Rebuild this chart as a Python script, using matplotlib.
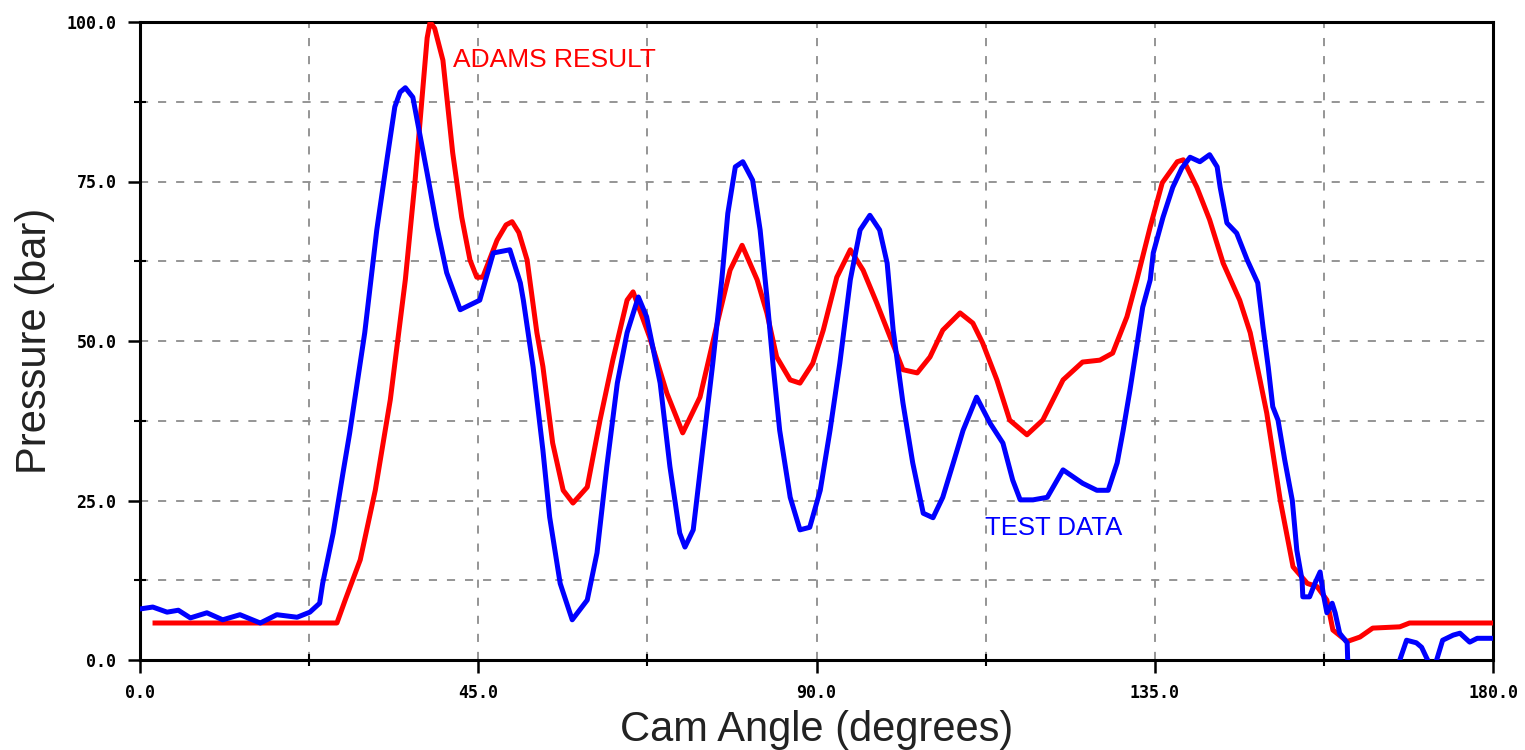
import matplotlib
matplotlib.use('Agg')
import matplotlib.pyplot as plt
from matplotlib.ticker import MultipleLocator, FormatStrFormatter

# ADAMS simulation result (red)
adams_deg = [2.0, 26.2, 27.3, 29.3, 31.3, 33.3, 35.3, 36.6, 37.5, 38.2, 38.6, 39.2, 40.3, 41.6, 42.8, 43.9,
             44.8, 45.6, 47.5, 48.7, 49.5, 50.4, 51.5, 52.8, 53.6, 54.9, 56.3, 57.6, 59.5, 61.2, 62.9, 64.8,
             65.6, 67.8, 70.1, 72.2, 74.5, 76.8, 78.5, 80.1, 82.1, 83.4, 84.7, 86.5, 87.8, 89.5,
             90.9, 92.7, 94.5, 96.2, 98.0, 99.8, 101.5, 103.4, 105.1, 106.8, 109.1, 110.8, 112.1,
             114.0, 115.7, 118.0, 120.1, 122.8, 125.4, 127.7, 129.4, 131.3, 132.6, 134.4, 136.0,
             138.0, 138.8, 140.6, 142.3, 144.1, 146.3, 147.7, 149.0, 149.9, 151.7, 153.4, 155.3,
             156.6, 157.9, 158.7, 160.6, 162.3, 164.0, 167.6, 168.9, 180.0]
adams_bar = [5.8, 5.8, 9.4, 15.7, 26.6, 40.8, 59.6, 75.2, 87.8, 97.5, 100.0, 99.0, 94.0, 79.5, 69.4, 62.7,
             60.0, 60.0, 65.8, 68.2, 68.7, 67.0, 62.7, 51.3, 46.0, 34.0, 26.6, 24.6, 27.1, 37.6, 47.0, 56.4,
             57.7, 50.6, 41.8, 35.6, 41.2, 52.8, 61.1, 65.0, 59.6, 54.4, 47.5, 43.9, 43.4, 46.5,
             51.7, 60.0, 64.3, 61.1, 56.0, 50.6, 45.5, 45.0, 47.5, 51.7, 54.4, 52.8, 49.7,
             43.9, 37.6, 35.3, 37.6, 43.9, 46.7, 47.0, 48.1, 53.8, 59.5, 67.9, 74.8,
             78.1, 78.4, 74.1, 69.0, 62.2, 56.4, 51.3, 43.9, 38.7, 25.0, 14.6, 12.0,
             11.5, 9.4, 4.7, 2.9, 3.6, 5.0, 5.2, 5.8, 5.8]

# measured test data (blue)
test_deg = [0.0, 1.7, 3.6, 5.1, 6.7, 8.9, 11.0, 13.3, 16.0, 18.2, 20.9, 22.6, 23.9, 24.3, 25.7,
            27.0, 27.9, 28.9, 29.9, 31.5, 32.9, 33.9, 34.6, 35.3, 36.3, 37.2, 38.2, 39.5, 40.8, 42.6,
            45.2, 47.0, 49.2, 50.6, 51.0, 52.3, 53.6, 54.5, 55.9, 57.5, 59.5, 60.8, 62.1, 63.5,
            64.8, 66.3, 67.4, 69.2, 70.5, 71.8, 72.5, 73.6, 74.9, 76.2, 77.4, 78.2, 79.2, 80.2,
            81.5, 82.5, 83.4, 84.2, 85.1, 86.5, 87.8, 89.1, 90.5, 91.8, 93.1, 94.5, 95.8, 97.1,
            98.4, 99.4, 100.2, 101.5, 102.8, 104.2, 105.5, 106.8, 108.2, 109.5, 111.3, 113.1,
            114.8, 116.1, 117.1, 118.8, 120.7, 122.8, 125.4, 127.3, 128.8, 130.0, 130.8, 131.7,
            132.6, 133.4, 134.4, 134.8, 136.1, 137.4, 138.6, 139.7, 141.0, 142.3, 143.3, 143.7,
            144.6, 145.9, 147.3, 148.7, 149.4, 150.1, 150.7, 151.4, 152.3, 153.3, 153.9, 154.6,
            154.7, 155.6, 156.3, 157.0, 157.4, 157.9, 158.6, 159.0, 159.6, 160.6, 160.8, 167.4,
            167.6, 168.5, 169.8, 170.5, 171.3, 171.8, 172.5, 173.3, 174.7, 175.6, 176.9, 177.9,
            180.0]
test_bar = [8.0, 8.3, 7.5, 7.8, 6.6, 7.4, 6.3, 7.1, 5.8, 7.1, 6.7, 7.5, 8.9, 12.0, 19.9,
            29.3, 35.6, 43.4, 51.3, 67.4, 78.8, 86.7, 89.0, 89.7, 88.2, 82.6, 76.3, 67.9, 60.7, 54.9,
            56.4, 63.8, 64.3, 59.1, 56.4, 45.9, 32.9, 22.4, 12.0, 6.3, 9.4, 16.8, 30.3, 43.4,
            51.3, 56.9, 53.8, 43.4, 30.3, 19.9, 17.7, 20.4, 33.4, 46.5, 59.6, 70.0, 77.3, 78.1,
            75.2, 67.4, 56.9, 46.5, 36.0, 25.5, 20.4, 20.8, 26.6, 36.0, 46.5, 59.6, 67.4, 69.7,
            67.4, 62.2, 51.7, 40.3, 30.9, 23.0, 22.3, 25.5, 30.9, 36.0, 41.2, 37.1,
            34.0, 28.2, 25.1, 25.1, 25.5, 29.8, 27.7, 26.6, 26.6, 30.9, 36.0, 42.3,
            49.1, 55.3, 59.6, 63.8, 69.4, 74.1, 77.1, 78.8, 78.1, 79.2, 77.3, 74.1,
            68.5, 66.9, 62.7, 59.1, 52.2, 45.9, 39.7, 37.6, 31.3, 25.0, 17.2, 12.5,
            9.9, 9.9, 12.0, 13.8, 10.5, 7.4, 8.9, 7.4, 4.2, 2.7, -5.0, -5.0,
            0.0, 3.1, 2.7, 2.0, 0.0, -2.0, 0.0, 3.1, 3.9, 4.2, 2.8, 3.4,
            3.4]

fig = plt.figure(figsize=(15.25, 7.5), dpi=100)
ax = fig.add_axes([140/1525, 1-660/750, (1493-140)/1525, (660-22)/750])

ax.plot(adams_deg, adams_bar, color='#ff0000', lw=3.6, zorder=3)
ax.plot(test_deg, test_bar, color='#0000ff', lw=3.6, zorder=4)

ax.set_xlim(0, 180)
ax.set_ylim(0, 100)
ax.xaxis.set_major_locator(MultipleLocator(45))
ax.xaxis.set_minor_locator(MultipleLocator(22.5))
ax.yaxis.set_major_locator(MultipleLocator(25))
ax.yaxis.set_minor_locator(MultipleLocator(12.5))
ax.xaxis.set_major_formatter(FormatStrFormatter('%.1f'))
ax.yaxis.set_major_formatter(FormatStrFormatter('%.1f'))

ax.grid(True, which='both', color='#8c8c8c', linestyle=(0, (4.5, 5.5)), linewidth=1.3)
for s in ax.spines.values():
    s.set_linewidth(2.2)
    s.set_color('black')

ax.tick_params(which='major', direction='out', length=9, width=1.8, color='black',
               labelsize=12, pad=8)
ax.tick_params(which='minor', direction='inout', length=8, width=1.5, color='black')
for lab in ax.get_xticklabels() + ax.get_yticklabels():
    lab.set_fontfamily('DejaVu Sans Mono')
    lab.set_fontweight('bold')

ax.set_xlabel('Cam Angle (degrees)', fontsize=30, family='Liberation Sans', color='#222222',
              labelpad=6)
ax.set_ylabel('Pressure (bar)', fontsize=30, family='Liberation Sans', color='#222222',
              labelpad=8)

ax.text(41.6, 94.0, 'ADAMS RESULT', color='#ff0000', fontsize=19, family='Liberation Sans',
        ha='left', va='center')
ax.text(112.4, 20.7, 'TEST DATA', color='#0000ff', fontsize=18.5, family='Liberation Sans',
        ha='left', va='center')

fig.savefig('out.png', dpi=100)
